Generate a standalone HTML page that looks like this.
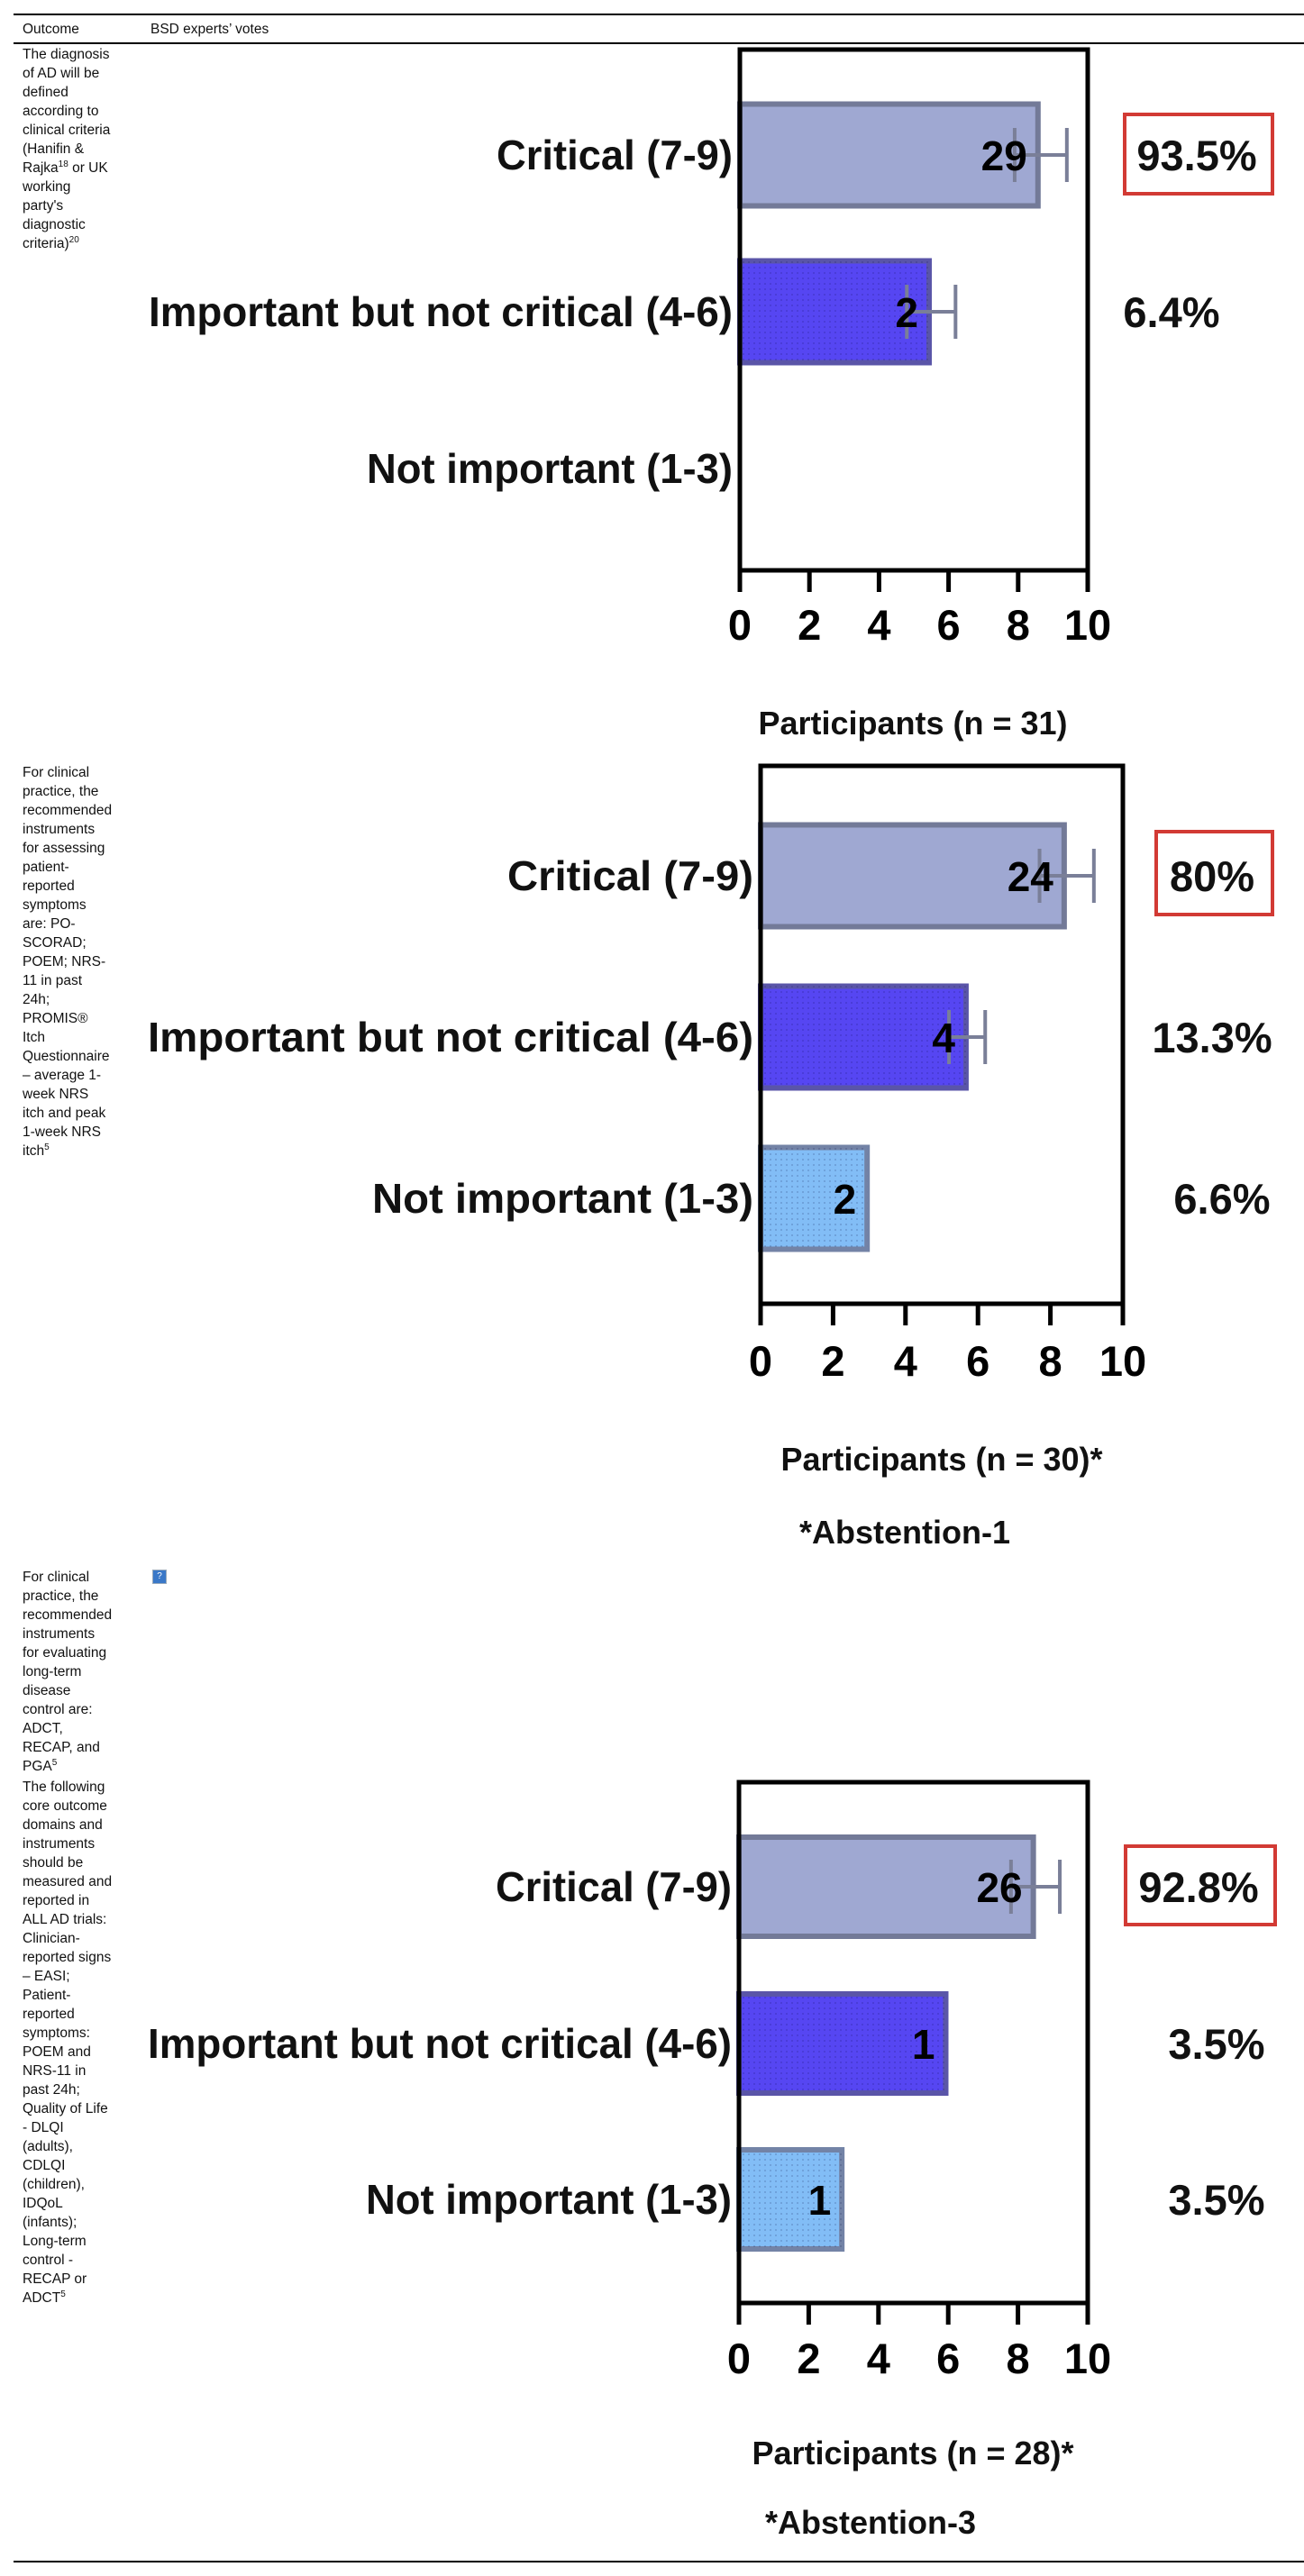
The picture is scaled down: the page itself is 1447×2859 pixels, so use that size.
<!DOCTYPE html>
<html><head><meta charset="utf-8"><style>
body{margin:0;width:1447px;height:2859px;background:#fff;position:relative;font-family:"Liberation Sans",sans-serif;overflow:hidden}
.hl{position:absolute;left:15px;right:0;background:#000;height:1.5px}
.cell{position:absolute;left:25px;font-size:15.5px;line-height:21px;color:#111;white-space:nowrap}
.cell sup{font-size:10px;line-height:0}
svg text{font-family:"Liberation Sans",sans-serif;font-weight:bold}
</style></head><body>
<div class="hl" style="top:15px"></div>
<div class="cell" style="top:22px">Outcome</div>
<div class="cell" style="top:22px;left:167px">BSD experts’ votes</div>
<div class="hl" style="top:47px"></div>
<div class="cell" style="top:50px">The diagnosis<br>of AD will be<br>defined<br>according to<br>clinical criteria<br>(Hanifin &amp;<br>Rajka<sup>18</sup> or UK<br>working<br>party's<br>diagnostic<br>criteria)<sup>20</sup></div>
<div class="cell" style="top:847px">For clinical<br>practice, the<br>recommended<br>instruments<br>for assessing<br>patient-<br>reported<br>symptoms<br>are: PO-<br>SCORAD;<br>POEM; NRS-<br>11 in past<br>24h;<br>PROMIS®<br>Itch<br>Questionnaire<br>– average 1-<br>week NRS<br>itch and peak<br>1-week NRS<br>itch<sup>5</sup></div>
<div class="cell" style="top:1740px">For clinical<br>practice, the<br>recommended<br>instruments<br>for evaluating<br>long-term<br>disease<br>control are:<br>ADCT,<br>RECAP, and<br>PGA<sup>5</sup></div>
<div style="position:absolute;left:169px;top:1742px;width:14px;height:14px;border:1px solid #9ab;background:#3a78c8;color:#fff;font-size:10px;text-align:center;line-height:14px">?</div>
<div class="cell" style="top:1973px">The following<br>core outcome<br>domains and<br>instruments<br>should be<br>measured and<br>reported in<br>ALL AD trials:<br>Clinician-<br>reported signs<br>– EASI;<br>Patient-<br>reported<br>symptoms:<br>POEM and<br>NRS-11 in<br>past 24h;<br>Quality of Life<br>- DLQI<br>(adults),<br>CDLQI<br>(children),<br>IDQoL<br>(infants);<br>Long-term<br>control -<br>RECAP or<br>ADCT<sup>5</sup></div>
<div class="hl" style="top:2842px"></div>

<svg id="chart" width="1447" height="2859" style="position:absolute;left:0;top:0">
<defs>
<pattern id="dots" width="6" height="6" patternUnits="userSpaceOnUse"><circle cx="3" cy="3" r="0.9" fill="rgba(0,0,60,0.25)"/></pattern>
</defs>
</svg>
<script>
const categories = ["Critical (7-9)", "Important but not critical (4-6)", "Not important (1-3)"];
const ticks = [0, 2, 4, 6, 8, 10];
const c1Values = [8.57, 5.44, 0];
const c1ErrLow = [7.9, 4.8, null];
const c1ErrHigh = [9.4, 6.2, null];
const c1Counts = ["29", "2", ""];
const c1Pct = ["93.5%", "6.4%", ""];
const c2Values = [8.38, 5.67, 2.94];
const c2ErrLow = [7.7, 5.2, null];
const c2ErrHigh = [9.2, 6.2, null];
const c2Counts = ["24", "4", "2"];
const c2Pct = ["80%", "13.3%", "6.6%"];
const c3Values = [8.44, 5.93, 2.95];
const c3ErrLow = [7.8, null, null];
const c3ErrHigh = [9.2, null, null];
const c3Counts = ["26", "1", "1"];
const c3Pct = ["92.8%", "3.5%", "3.5%"];
const titles = ["Participants (n = 31)", "Participants (n = 30)*", "Participants (n = 28)*"];
const notes = ["", "*Abstention-1", "*Abstention-3"];

const svg = document.getElementById('chart');
const NS = 'http://www.w3.org/2000/svg';
function mk(tag, attrs, parent){const e=document.createElementNS(NS,tag);for(const k in attrs)e.setAttribute(k,attrs[k]);(parent||svg).appendChild(e);return e;}
const fills = ['#9fa8d2', '#5646f2', '#82bdf6'];
const strokes = ['#737a98', '#5a55a8', '#7383a6'];

const layouts = [
 {x0:821,x1:1207,top:55,axis:633,rows:[172,346,520],bh:113,labW:[262,648,406],pctX:[1328,1300,1300],box:[1248,127,164,88],tickY:693,titleX:1013,titleY:802,noteX:0,noteY:0},
 {x0:844,x1:1246,top:850,axis:1447,rows:[972,1151,1330],bh:113,labW:[273,672,423],pctX:[1345,1345,1356],box:[1283,923,129,92],tickY:1510,titleX:1045,titleY:1619,noteX:1004,noteY:1700},
 {x0:820,x1:1207,top:1978,axis:2556,rows:[2094,2268,2441],bh:110,labW:[262,648,406],pctX:[1330,1350,1350],box:[1249,2049,166,87],tickY:2617,titleX:1013,titleY:2722,noteX:966,noteY:2799}
];
const data = [
 [c1Values,c1ErrLow,c1ErrHigh,c1Counts,c1Pct],
 [c2Values,c2ErrLow,c2ErrHigh,c2Counts,c2Pct],
 [c3Values,c3ErrLow,c3ErrHigh,c3Counts,c3Pct]
];

layouts.forEach((L,ci)=>{
 const [vals,lo,hi,counts,pct]=data[ci];
 const xs=v=>L.x0+(L.x1-L.x0)*v/10;
 const g=mk('g',{});
 
 
 categories.forEach((c,i)=>{
  const y=L.rows[i];
  const t=mk('text',{x:L.x0-8,y:y+16,'text-anchor':'end','font-size':46,textLength:L.labW[i],lengthAdjust:'spacingAndGlyphs',fill:'#111'},g);
  t.textContent=c;
  
  
  if(vals[i]>0){
   const r=mk('rect',{x:L.x0,y:y-L.bh/2,width:xs(vals[i])-L.x0,height:L.bh,fill:fills[i],stroke:strokes[i],'stroke-width':6},g);
   
   
   if(i>0) mk('rect',{x:L.x0,y:y-L.bh/2,width:xs(vals[i])-L.x0,height:L.bh,fill:'url(#dots)'},g);
  }
  if(lo[i]!=null){
   const e=mk('path',{d:`M${xs(lo[i])} ${y-30}V${y+30}M${xs(lo[i])} ${y}H${xs(hi[i])}M${xs(hi[i])} ${y-30}V${y+30}`,stroke:'#7a7f98','stroke-width':4,fill:'none'},g);
   
   
  }
  if(counts[i]){
   const n=mk('text',{x:xs(vals[i])-12,y:y+17,'text-anchor':'end','font-size':46,fill:'#000'},g);
   n.textContent=counts[i];
   
   
  }
  if(pct[i]){
   const p=mk('text',{x:L.pctX[i],y:y+17,'text-anchor':'middle','font-size':47,fill:'#111'},g);
   p.textContent=pct[i];
   
   
  }
 });
 const b=mk('rect',{x:L.box[0],y:L.box[1],width:L.box[2],height:L.box[3],fill:'none',stroke:'#d23a34','stroke-width':4},g);
 
 
 const f=mk('path',{d:`M${L.x0} ${L.axis}V${L.top}H${L.x1}V${L.axis}H${L.x0}`,fill:'none',stroke:'#000','stroke-width':5},g);
 
 
 ticks.forEach(tv=>{
  mk('line',{x1:xs(tv),x2:xs(tv),y1:L.axis,y2:L.axis+24,stroke:'#000','stroke-width':5},g);
  const tl=mk('text',{x:xs(tv),y:L.tickY+17,'text-anchor':'middle','font-size':47,fill:'#000'},g);
  tl.textContent=tv;
  
  
 });
 const ti=mk('text',{x:L.titleX,y:L.titleY+13,'text-anchor':'middle','font-size':36,fill:'#111'},g);
 ti.textContent=titles[ci];
 
 
 if(notes[ci]){
  const no=mk('text',{x:L.noteX,y:L.noteY+13,'text-anchor':'middle','font-size':36,fill:'#111'},g);
  no.textContent=notes[ci];
  
  
 }
});
</script>
</body></html>
